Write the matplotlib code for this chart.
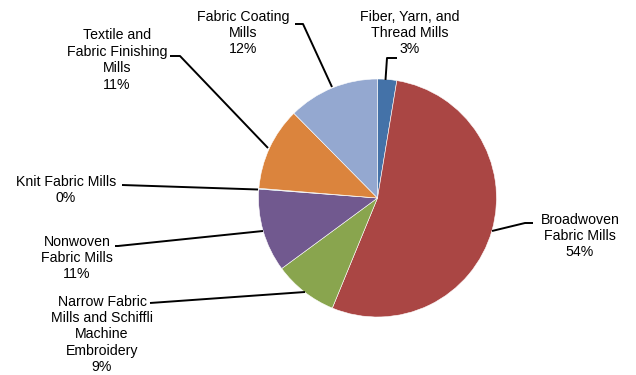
import matplotlib
matplotlib.use("Agg")
import matplotlib.pyplot as plt

categories = [
    "Fiber, Yarn, and\nThread Mills",
    "Broadwoven\nFabric Mills",
    "Narrow Fabric\nMills and Schiffli\nMachine\nEmbroidery",
    "Nonwoven\nFabric Mills",
    "Knit Fabric Mills",
    "Textile and\nFabric Finishing\nMills",
    "Fabric Coating\nMills",
]
values = [2.6, 53.6, 8.7, 11.3, 0.1, 11.3, 12.4]
colors = ["#4472A8", "#AA4644", "#89A54E", "#71598F", "#4BACC6", "#DB843D", "#94A8D0"]

W, H = 636, 375
plt.rcParams['font.family'] = ['Liberation Sans', 'DejaVu Sans']
fig = plt.figure(figsize=(W / 100, H / 100), dpi=100)
ax = fig.add_axes([0, 0, 1, 1])

def P(x, y):
    return (x, H - y)

ax.pie(values, colors=colors, startangle=90, counterclock=False,
       center=P(377.5, 198), radius=119,
       wedgeprops=dict(edgecolor="white", linewidth=0.4), frame=True)
ax.set_xlim(0, W)
ax.set_ylim(0, H)
ax.axis("off")

# label text centre positions (pixel coords, top-left origin) and leader polylines
layout = [
    dict(text=(410, 33), line=[(397, 58), (387, 58), (385.5, 80)]),
    dict(text=(580, 236), line=[(533, 223), (525, 223), (492, 231)]),
    dict(text=(102, 334.5), line=[(150, 303), (305, 292)]),
    dict(text=(77, 258), line=[(115, 246), (118, 246), (263, 231)]),
    dict(text=(66, 190), line=[(122, 185), (258, 189.5)]),
    dict(text=(117, 60), line=[(170, 56), (180, 56), (268, 148)]),
    dict(text=(243, 33), line=[(295, 24), (303, 24), (332, 87)]),
]

for cat, v, lay in zip(categories, values, layout):
    label = f"{cat}\n{round(v):.0f}%"
    tx, ty = P(*lay["text"])
    ax.text(tx, ty, label, ha="center", va="center", fontsize=10.2,
            linespacing=1.22, color="#000000")
    xs = [p[0] for p in lay["line"]]
    ys = [H - p[1] for p in lay["line"]]
    ax.plot(xs, ys, color="black", linewidth=1.4, solid_capstyle="butt")

fig.savefig("out.png", dpi=100)
